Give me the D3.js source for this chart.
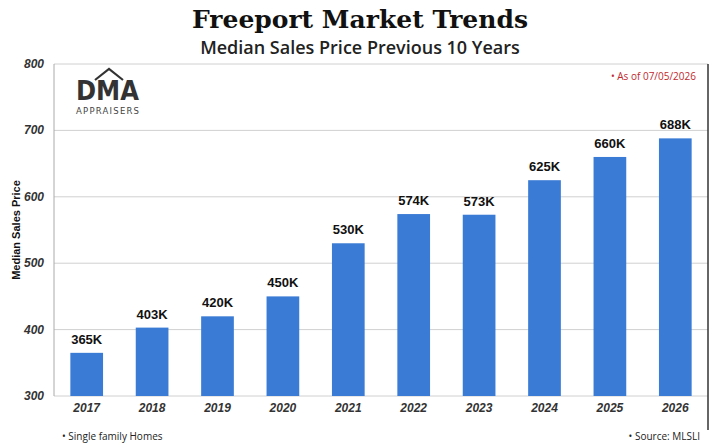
<!DOCTYPE html>
<html><head><meta charset="utf-8">
<script src="https://cdn.jsdelivr.net/npm/d3@7"></script>
<style>body{margin:0;background:#fff}svg{display:block}</style>
</head><body><svg id="c" width="720" height="448"></svg>
<script>
const years = ['2017','2018','2019','2020','2021','2022','2023','2024','2025','2026'];
const prices = [365, 403, 420, 450, 530, 574, 573, 625, 660, 688];
const yTicks = [300, 400, 500, 600, 700, 800];

const m = { left: 54, right: 708, top: 64, bottom: 396 };
const svg = d3.select('#c');

const x = d3.scaleBand().domain(years).range([m.left, m.right]).paddingInner(0.5).paddingOuter(0.25);
const y = d3.scaleLinear().domain([300, 800]).range([m.bottom, m.top]);

svg.append('text').attr('x', 360).attr('y', 28).attr('text-anchor', 'middle')
  .attr('font-family', 'DejaVu Serif').attr('font-weight', 'bold').attr('font-size', 25)
  .attr('fill', '#111').text('Freeport Market Trends');
svg.append('text').attr('x', 360).attr('y', 54).attr('text-anchor', 'middle')
  .attr('font-family', 'Open Sans').attr('font-weight', 600).attr('font-size', 18)
  .attr('fill', '#222').text('Median Sales Price Previous 10 Years');

svg.append('g').selectAll('line').data(yTicks).join('line')
  .attr('x1', m.left).attr('x2', m.right).attr('y1', d => y(d)).attr('y2', d => y(d))
  .attr('stroke', '#d0d0d0');
svg.append('line').attr('x1', m.left).attr('x2', m.left).attr('y1', m.top).attr('y2', m.bottom).attr('stroke', '#aaa');
svg.append('line').attr('x1', m.right).attr('x2', m.right).attr('y1', m.top).attr('y2', 430).attr('stroke', '#333').attr('stroke-width', 1.5);

svg.append('g').selectAll('text').data(yTicks).join('text')
  .attr('x', m.left - 10).attr('y', d => y(d) + 4).attr('text-anchor', 'end')
  .attr('font-family', 'Liberation Sans').attr('font-style', 'italic').attr('font-weight', 'bold')
  .attr('font-size', 12).attr('fill', '#333').text(d => d);

svg.append('text').attr('transform', `translate(20,${(m.top + m.bottom) / 2}) rotate(-90)`)
  .attr('text-anchor', 'middle').attr('font-family', 'Liberation Sans').attr('font-weight', 'bold')
  .attr('font-size', 11).attr('fill', '#111').text('Median Sales Price');

svg.append('g').selectAll('rect').data(prices).join('rect')
  .attr('x', (d, i) => x(years[i])).attr('width', x.bandwidth())
  .attr('y', d => y(d)).attr('height', d => y(300) - y(d)).attr('fill', '#3a7bd5');

svg.append('g').selectAll('text').data(prices).join('text')
  .attr('x', (d, i) => x(years[i]) + x.bandwidth() / 2).attr('y', d => y(d) - 9)
  .attr('text-anchor', 'middle').attr('font-family', 'Liberation Sans').attr('font-weight', 'bold')
  .attr('font-size', 13).attr('fill', '#111').text(d => d + 'K');

svg.append('g').selectAll('text').data(years).join('text')
  .attr('x', d => x(d) + x.bandwidth() / 2).attr('y', m.bottom + 16)
  .attr('text-anchor', 'middle').attr('font-family', 'Liberation Sans').attr('font-style', 'italic')
  .attr('font-weight', 'bold').attr('font-size', 12).attr('fill', '#333').text(d => d);

svg.append('text').attr('x', 62).attr('y', 440).attr('font-family', 'Open Sans').attr('font-size', 10)
  .attr('fill', '#222').text('•  Single family Homes');
svg.append('text').attr('x', 700).attr('y', 440).attr('text-anchor', 'end').attr('font-family', 'Open Sans')
  .attr('font-size', 10).attr('fill', '#222').text('•  Source: MLSLI');
svg.append('text').attr('x', 696).attr('y', 80).attr('text-anchor', 'end').attr('font-family', 'Open Sans')
  .attr('font-size', 10).attr('fill', '#c0282d').text('•  As of 07/05/2026');

// logo
const logo = svg.append('g').attr('transform', 'translate(76,68)');
logo.append('path').attr('d', 'M19,12 L33,1 L47,12').attr('fill', 'none').attr('stroke', '#333').attr('stroke-width', 2.2);
logo.append('text').attr('x', 0).attr('y', 32).attr('font-family', 'DejaVu Sans').attr('font-weight', 'bold').attr('font-size', 26)
  .attr('fill', '#333').attr('textLength', 63).attr('lengthAdjust', 'spacingAndGlyphs').text('DMA');
logo.append('text').attr('x', 0).attr('y', 46).attr('font-family', 'DejaVu Sans').attr('font-size', 8.5)
  .attr('fill', '#444').attr('textLength', 64).attr('letter-spacing', 1).text('APPRAISERS');
</script></body></html>
